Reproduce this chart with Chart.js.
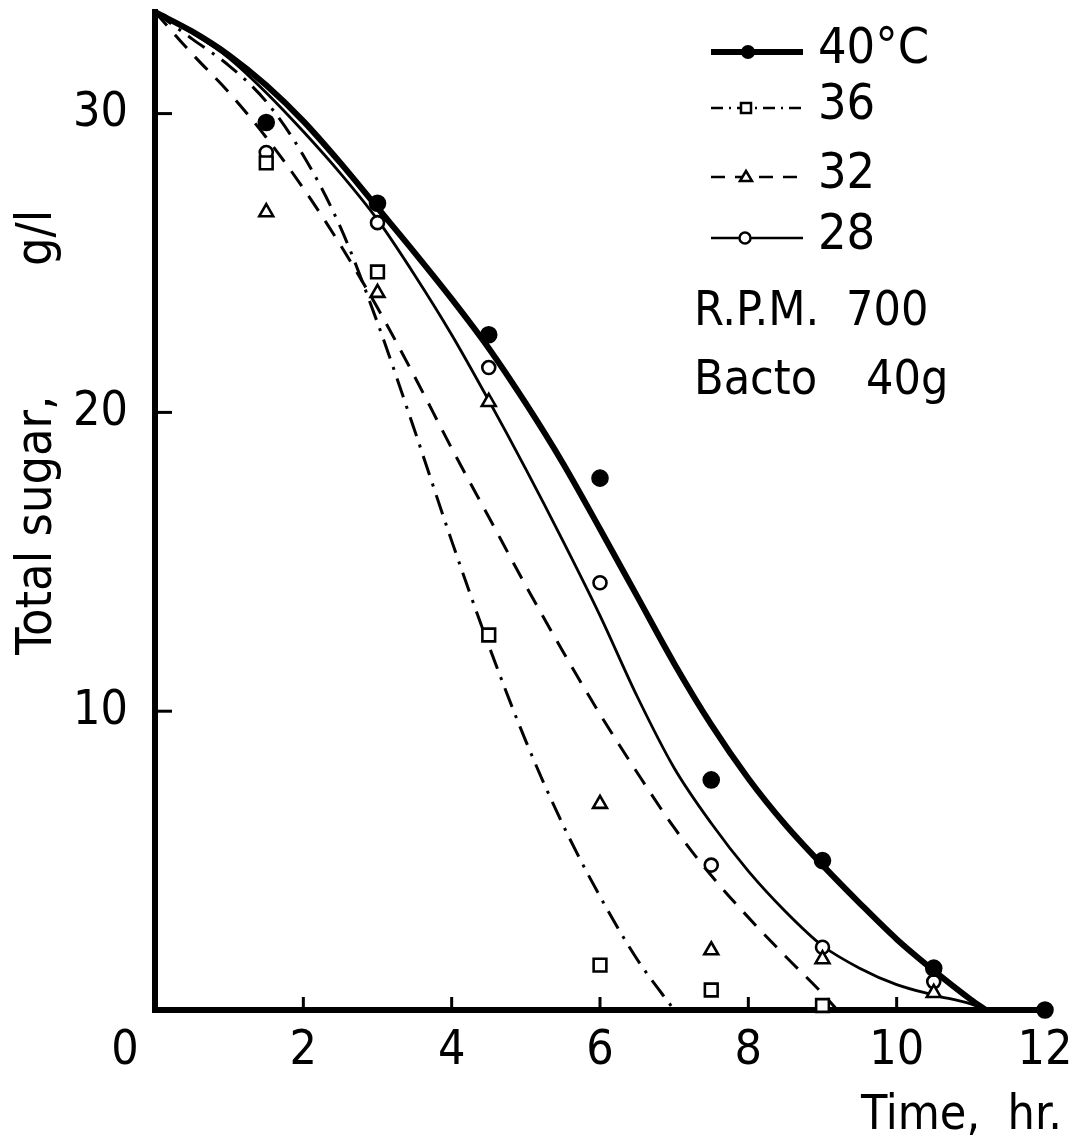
<!DOCTYPE html>
<html>
<head>
<meta charset="utf-8">
<style>
  html, body { margin: 0; padding: 0; background: #fff; }
  #wrap { width: 1075px; height: 1146px; position: relative; }
</style>
<script src="https://cdn.jsdelivr.net/npm/chart.js"></script>
</head>
<body>
<div id="wrap"><canvas id="sugarChart"></canvas></div>
<script>
// fitted curves (time in hr, total sugar in g/l)
const curve40Times = [0, 0.5, 1, 1.5, 2, 2.5, 3, 3.5, 4, 4.5, 5, 5.5, 6, 6.5, 7, 7.5, 8, 8.5, 9, 9.5, 10, 10.5, 11, 11.2];
const curve40Sugar = [33.4, 32.75, 31.95, 30.95, 29.75, 28.35, 26.85, 25.35, 23.8, 22.15, 20.3, 18.3, 16.1, 13.85, 11.6, 9.55, 7.75, 6.2, 4.85, 3.58, 2.37, 1.32, 0.35, 0];

const curve36Times = [0, 0.5, 1, 1.5, 2, 2.5, 3, 3.5, 4, 4.5, 5, 5.5, 6, 6.5, 7];
const curve36Sugar = [33.4, 32.5, 31.6, 30.4, 28.6, 26.2, 23.0, 19.4, 15.7, 12.2, 9.0, 6.2, 3.8, 1.7, 0];

const curve32Times = [0, 0.5, 1, 1.5, 2, 2.5, 3, 3.5, 4, 4.5, 5, 5.5, 6, 6.5, 7, 7.5, 8, 8.5, 9, 9.2];
const curve32Sugar = [33.4, 32.0, 30.7, 29.2, 27.5, 25.6, 23.5, 21.2, 18.8, 16.5, 14.2, 12.0, 9.9, 7.95, 6.1, 4.5, 3.1, 1.8, 0.55, 0];

const curve28Times = [0, 0.5, 1, 1.5, 2, 2.5, 3, 3.5, 4, 4.5, 5, 5.5, 6, 6.5, 7, 7.5, 8, 8.5, 9, 9.5, 10, 10.5, 11, 11.2];
const curve28Sugar = [33.4, 32.7, 31.85, 30.7, 29.4, 28.0, 26.45, 24.6, 22.6, 20.4, 18.1, 15.7, 13.2, 10.5, 8.1, 6.25, 4.65, 3.3, 2.15, 1.4, 0.85, 0.5, 0.2, 0];

// measured points
const pointTimes = [1.5, 3, 4.5, 6, 7.5, 9, 10.5, 12];
const points40 = [29.7, 27.0, 22.6, 17.8, 7.7, 5.0, 1.4, 0];
const points36 = [28.35, 24.7, 12.55, 1.5, 0.67, 0.15, null, null];
const points32 = [26.7, 24.0, 20.35, 6.9, 2.0, 1.7, 0.57, null];
const points28 = [28.7, 26.35, 21.5, 14.3, 4.85, 2.1, 0.95, null];

const xTickValues = [2, 4, 6, 8, 10, 12];
const yTickValues = [10, 20, 30];
const legendLabels = ["40°C", "36", "32", "28"];

const fontFamily = '"Liberation Sans Narrow", "DejaVu Sans Condensed", Roboto, sans-serif';
const ink = "#000";

function curveSet(label, times, values, width, dash) {
  return {
    label,
    data: times.map((t, i) => ({ x: t, y: values[i] })),
    borderColor: ink,
    borderWidth: width,
    borderDash: dash,
    pointRadius: 0,
    fill: false,
    cubicInterpolationMode: "monotone",
    clip: false,
    order: 1,
  };
}

function markerSet(label, values, style, radius, filled) {
  return {
    label,
    data: pointTimes
      .map((t, i) => ({ x: t, y: values[i] }))
      .filter((p) => p.y !== null),
    showLine: false,
    pointStyle: style,
    pointRadius: radius,
    pointBorderWidth: 2.6,
    pointBackgroundColor: filled ? ink : "#fff",
    pointBorderColor: ink,
    clip: false,
    order: 0,
  };
}

// ticks point inward, texts placed like the original figure
const annotate = {
  id: "annotate",
  afterDraw(chart) {
    const { ctx, chartArea, scales } = chart;
    const x = scales.x;
    const y = scales.y;
    ctx.save();
    ctx.strokeStyle = ink;
    ctx.fillStyle = ink;
    ctx.lineWidth = 3;
    yTickValues.forEach((v) => {
      const py = y.getPixelForValue(v);
      ctx.beginPath();
      ctx.moveTo(chartArea.left, py);
      ctx.lineTo(chartArea.left + 17, py);
      ctx.stroke();
    });
    xTickValues.filter((v) => v < 12).forEach((v) => {
      const px = x.getPixelForValue(v);
      ctx.beginPath();
      ctx.moveTo(px, chartArea.bottom);
      ctx.lineTo(px, chartArea.bottom - 13);
      ctx.stroke();
    });

    ctx.font = `48px ${fontFamily}`;
    ctx.textBaseline = "middle";
    ctx.textAlign = "center";
    ctx.fillText("0", 125, 1052);

    ctx.textAlign = "right";
    ctx.fillText("Time,  hr.", 1062, 1117);

    // y title: two pieces with the wide gap of the original
    ctx.save();
    ctx.font = `50px ${fontFamily}`;
    ctx.translate(38, 0);
    ctx.rotate(-Math.PI / 2);
    ctx.textAlign = "left";
    ctx.fillText("Total sugar,", -655, 0);
    ctx.fillText("g/l", -266, 0);
    ctx.restore();

    // legend
    const rows = [52, 108, 177, 238];
    const styles = [
      { w: 6, dash: [] },
      { w: 2.5, dash: [12, 6, 2, 6] },
      { w: 2.5, dash: [14, 10] },
      { w: 2.5, dash: [] },
    ];
    rows.forEach((ry, i) => {
      ctx.lineWidth = styles[i].w;
      ctx.setLineDash(styles[i].dash);
      ctx.beginPath();
      ctx.moveTo(711, ry);
      ctx.lineTo(803, ry);
      ctx.stroke();
    });
    ctx.setLineDash([]);
    ctx.lineWidth = 2.5;
    ctx.beginPath();
    ctx.arc(748, rows[0], 7, 0, Math.PI * 2);
    ctx.fill();
    ctx.fillStyle = "#fff";
    ctx.fillRect(741, rows[1] - 5, 10, 10);
    ctx.strokeRect(741, rows[1] - 5, 10, 10);
    ctx.beginPath();
    ctx.moveTo(746, rows[2] - 6);
    ctx.lineTo(752, rows[2] + 4);
    ctx.lineTo(740, rows[2] + 4);
    ctx.closePath();
    ctx.fill();
    ctx.stroke();
    ctx.beginPath();
    ctx.arc(745, rows[3], 5.5, 0, Math.PI * 2);
    ctx.fill();
    ctx.stroke();

    ctx.fillStyle = ink;
    ctx.font = `50px ${fontFamily}`;
    ctx.textAlign = "left";
    legendLabels.forEach((txt, i) => ctx.fillText(txt, 818, rows[i] - 2));

    ctx.font = `48px ${fontFamily}`;
    ctx.fillText("R.P.M.", 694, 313);
    ctx.fillText("700", 846, 313);
    ctx.fillText("Bacto", 694, 382);
    ctx.fillText("40g", 866, 382);
    ctx.restore();
  },
};

new Chart(document.getElementById("sugarChart"), {
  type: "line",
  data: {
    datasets: [
      curveSet("40°C", curve40Times, curve40Sugar, 6, []),
      curveSet("36", curve36Times, curve36Sugar, 3, [20, 9, 3, 9]),
      curveSet("32", curve32Times, curve32Sugar, 3, [18, 12]),
      curveSet("28", curve28Times, curve28Sugar, 2.8, []),
      markerSet("40°C", points40, "circle", 7.5, true),
      markerSet("36", points36, "rect", 9, false),
      markerSet("32", points32, "triangle", 8, false),
      markerSet("28", points28, "circle", 6.5, false),
    ],
  },
  options: {
    responsive: true,
    maintainAspectRatio: false,
    animation: false,
    layout: { padding: { top: 12, right: 30, left: 0, bottom: 0 } },
    plugins: {
      legend: { display: false },
      tooltip: { enabled: false },
    },
    scales: {
      x: {
        type: "linear",
        min: 0,
        max: 12,
        afterBuildTicks: (s) => {
          s.ticks = xTickValues.map((v) => ({ value: v }));
        },
        afterFit: (s) => {
          s.height = 136;
          s.paddingLeft = 0;
          s.paddingRight = 0;
        },
        grid: { display: false, drawTicks: false },
        border: { display: true, color: ink, width: 6 },
        ticks: {
          color: ink,
          font: { family: fontFamily, size: 48 },
          padding: 13,
          maxRotation: 0,
          autoSkip: false,
        },
      },
      y: {
        min: 0,
        max: 33.4,
        afterBuildTicks: (s) => {
          s.ticks = yTickValues.map((v) => ({ value: v }));
        },
        afterFit: (s) => {
          s.width = 155;
          s.paddingTop = 0;
          s.paddingBottom = 0;
        },
        grid: { display: false, drawTicks: false },
        border: { display: true, color: ink, width: 6 },
        ticks: {
          color: ink,
          font: { family: fontFamily, size: 48 },
          padding: 27,
          autoSkip: false,
        },
      },
    },
  },
  plugins: [annotate],
});
</script>
</body>
</html>
